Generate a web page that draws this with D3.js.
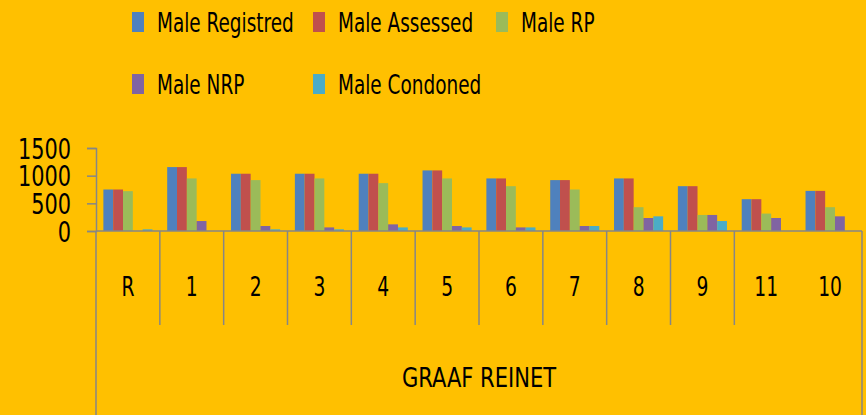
<!DOCTYPE html>
<html lang="en">
<head>
  <meta charset="UTF-8">
  <title>Graaf Reinet</title>
  <script src="https://d3js.org/d3.v7.min.js"></script>
  <style>
    body { margin: 0; background: #FFC000; }
    text { font-family: "DejaVu Sans Condensed", "Liberation Sans Narrow", sans-serif; fill: #000; }
  </style>
</head>
<body>
  <script>
    var categories = ["R", "1", "2", "3", "4", "5", "6", "7", "8", "9", "11", "10"];
    var seriesNames = ["Male Registred", "Male Assessed", "Male RP", "Male NRP", "Male Condoned"];
    var maleRegistred = [750, 1155, 1035, 1035, 1035, 1095, 950, 920, 950, 810, 575, 725];
    var maleAssessed  = [750, 1155, 1035, 1035, 1035, 1095, 950, 920, 950, 810, 575, 725];
    var maleRP        = [720, 950, 920, 950, 865, 950, 810, 750, 430, 290, 315, 430];
    var maleNRP       = [0, 180, 90, 65, 120, 90, 65, 90, 235, 290, 235, 265];
    var maleCondoned  = [30, 0, 30, 30, 65, 65, 65, 90, 265, 180, 0, 0];
    var yTicks = [0, 500, 1000, 1500];
    var groupLabel = "GRAAF REINET";

    var colors = ["#4F81BD", "#C0504D", "#9BBB59", "#8064A2", "#4BACC6"];
    var allSeries = [maleRegistred, maleAssessed, maleRP, maleNRP, maleCondoned];

    var width = 866, height = 415;
    var plotLeft = 96, plotRight = 862, plotTop = 148, plotBase = 231;
    var axisColor = "#868686";

    var svg = d3.select("body").append("svg")
      .attr("width", width)
      .attr("height", height);

    svg.append("rect")
      .attr("width", width)
      .attr("height", height)
      .attr("fill", "#FFC000");

    // squeezed text, the original font is narrow
    function label(x, y, str, size, sx, anchor) {
      return svg.append("text")
        .attr("transform", "translate(" + x + "," + y + ") scale(" + sx + ",1)")
        .attr("text-anchor", anchor || "start")
        .style("font-size", size + "px")
        .text(str);
    }

    var x0 = d3.scaleBand().domain(categories).range([plotLeft, plotRight]);
    var bw = x0.bandwidth();
    var x1 = d3.scaleBand().domain(seriesNames)
      .range([bw * 0.75 / 6.5, bw - bw * 0.75 / 6.5]);
    var y = d3.scaleLinear().domain([0, 1500]).range([plotBase, plotTop]);

    // bars
    var groups = svg.selectAll("g.cat")
      .data(categories)
      .enter().append("g")
      .attr("class", "cat")
      .attr("transform", d => "translate(" + x0(d) + ",0)");

    groups.selectAll("rect")
      .data((c, i) => seriesNames.map((s, k) => ({ s: s, k: k, v: allSeries[k][i] })))
      .enter().append("rect")
      .attr("x", d => x1(d.s))
      .attr("width", x1.bandwidth())
      .attr("y", d => y(d.v))
      .attr("height", d => plotBase - y(d.v))
      .attr("fill", d => colors[d.k]);

    // y axis
    var yAxis = svg.append("g")
      .attr("transform", "translate(" + plotLeft + ",0)")
      .call(d3.axisLeft(y).tickValues(yTicks).tickSize(9).tickFormat(""));
    yAxis.select(".domain").attr("stroke", axisColor).attr("stroke-width", 1.5);
    yAxis.selectAll(".tick line").attr("stroke", axisColor).attr("stroke-width", 1.5);
    yTicks.forEach(function(t) {
      label(71, y(t) + 10.5, String(t), 29, 0.8, "end");
    });

    // x axis line and category separators
    svg.append("line")
      .attr("x1", plotLeft).attr("x2", plotRight)
      .attr("y1", plotBase).attr("y2", plotBase)
      .attr("stroke", axisColor).attr("stroke-width", 1.5);

    svg.append("line")
      .attr("x1", plotLeft).attr("x2", plotLeft)
      .attr("y1", plotBase).attr("y2", height)
      .attr("stroke", axisColor).attr("stroke-width", 1.5);
    svg.append("line")
      .attr("x1", plotRight).attr("x2", plotRight)
      .attr("y1", plotBase).attr("y2", height)
      .attr("stroke", axisColor).attr("stroke-width", 1.5);

    var seps = categories.slice(1, categories.length - 1);
    svg.selectAll("line.sep")
      .data(seps)
      .enter().append("line")
      .attr("class", "sep")
      .attr("x1", d => x0(d)).attr("x2", d => x0(d))
      .attr("y1", plotBase).attr("y2", 325)
      .attr("stroke", axisColor).attr("stroke-width", 1.5);

    categories.forEach(function(c) {
      label(x0(c) + bw / 2, 296, c, 26, 0.8, "middle");
    });

    label((plotLeft + plotRight) / 2, 387, groupLabel, 26, 0.9, "middle");

    // legend
    var legendPos = [[132, 12], [313, 12], [496, 12], [132, 74], [313, 74]];
    seriesNames.forEach(function(s, i) {
      svg.append("rect")
        .attr("x", legendPos[i][0]).attr("y", legendPos[i][1])
        .attr("width", 12).attr("height", 20)
        .attr("fill", colors[i]);
      label(legendPos[i][0] + 25, legendPos[i][1] + 20, s, 26, 0.79, "start");
    });
  </script>
</body>
</html>
